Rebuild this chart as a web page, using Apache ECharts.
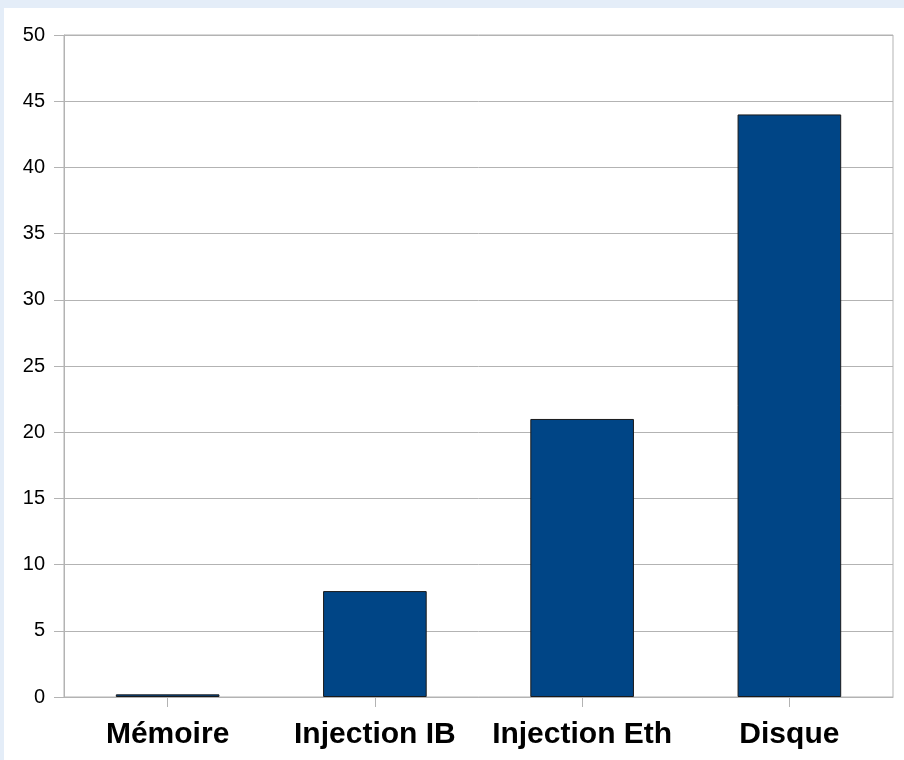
<!DOCTYPE html>
<html><head><meta charset="utf-8">
<script src="https://cdn.jsdelivr.net/npm/echarts@6/dist/echarts.min.js"></script>
<style>
html,body{margin:0;padding:0;background:#e4edf8;width:904px;height:760px;overflow:hidden}
#c{position:absolute;left:4px;top:8px;width:900px;height:752px;background:#ffffff}
</style></head><body>
<div id="c"></div>
<script>
const categories = ['Mémoire', 'Injection IB', 'Injection Eth', 'Disque'];
const values = [0.2, 8, 21, 44];
const yTicks = {min: 0, max: 50, interval: 5};

const chart = echarts.init(document.getElementById('c'));
chart.setOption({
  animation: false,
  grid: {left: 60, right: 11, top: 27, bottom: 63, show: true, borderColor: '#b3b3b3', borderWidth: 1, backgroundColor: 'transparent'},
  xAxis: {
    type: 'category', data: categories,
    axisLine: {show: true, lineStyle: {color: '#b3b3b3'}},
    axisTick: {show: true, alignWithLabel: true, length: 10, lineStyle: {color: '#b3b3b3'}},
    axisLabel: {fontFamily: 'Liberation Sans', fontWeight: 'bold', fontSize: 30, color: '#000', margin: 23, interval: 0, hideOverlap: false},
    splitLine: {show: false}
  },
  yAxis: {
    type: 'value', min: yTicks.min, max: yTicks.max, interval: yTicks.interval,
    axisLine: {show: true, lineStyle: {color: '#b3b3b3'}},
    axisTick: {show: true, length: 10, lineStyle: {color: '#b3b3b3'}},
    axisLabel: {fontFamily: 'Liberation Sans', fontSize: 20, color: '#000', margin: 19},
    splitLine: {show: true, lineStyle: {color: '#b3b3b3', width: 1}}
  },
  series: [{
    type: 'bar', data: values, barWidth: '50%',
    itemStyle: {color: '#004586', borderColor: '#1a1a1a', borderWidth: 1}
  }]
});
</script></body></html>
